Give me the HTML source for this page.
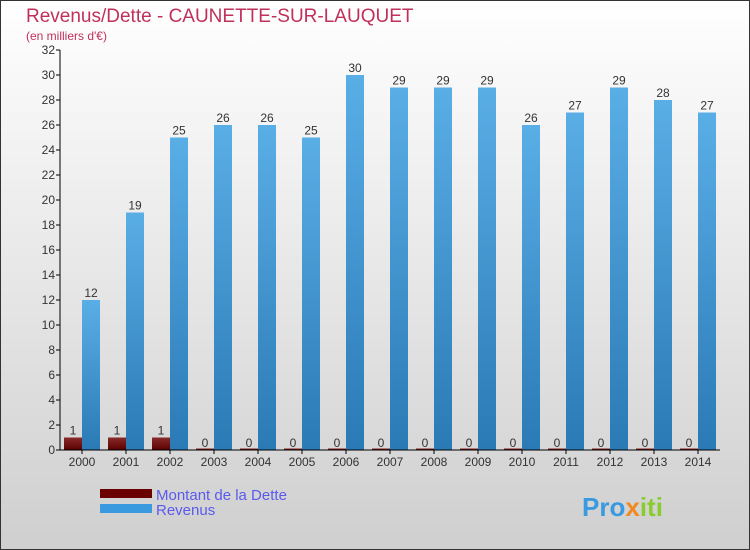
<!DOCTYPE html>
<html><head><meta charset="utf-8"><style>
body{margin:0}
svg{display:block;font-family:"Liberation Sans",sans-serif}
</style></head><body>
<svg width="750" height="550" xmlns="http://www.w3.org/2000/svg">
<defs>
<linearGradient id="bg" x1="0" y1="0" x2="0" y2="1"><stop offset="0" stop-color="#ffffff"/><stop offset="1" stop-color="#cfcfcf"/></linearGradient>
<linearGradient id="rev" x1="0" y1="0" x2="0" y2="1"><stop offset="0" stop-color="#5aaee6"/><stop offset="1" stop-color="#2a7ab5"/></linearGradient>
<linearGradient id="debt" x1="0" y1="0" x2="0" y2="1"><stop offset="0" stop-color="#8a2a2a"/><stop offset="1" stop-color="#5a0000"/></linearGradient>
</defs>
<rect x="0.5" y="0.5" width="749" height="549" fill="url(#bg)" stroke="#333"/>
<text x="26" y="22" font-size="19" fill="#c0305a">Revenus/Dette - CAUNETTE-SUR-LAUQUET</text>
<text x="26" y="40" font-size="12" fill="#c0305a">(en milliers d'€)</text>
<g id="plot"></g>
<rect x="100" y="489" width="52" height="9" fill="#6a0000"/>
<text x="156" y="500" font-size="15" fill="#5a5aee">Montant de la Dette</text>
<rect x="100" y="504" width="52" height="9" fill="#3a9ae0"/>
<text x="156" y="515" font-size="15" fill="#5a5aee">Revenus</text>
<text x="582" y="516" font-size="26" font-weight="bold" fill="#3a9ae0">Pro<tspan fill="#f08a20">x</tspan><tspan fill="#8acc30">iti</tspan></text>
</svg>
<script>
const years=["2000","2001","2002","2003","2004","2005","2006","2007","2008","2009","2010","2011","2012","2013","2014"];
const debt=[1,1,1,0,0,0,0,0,0,0,0,0,0,0,0];
const revenus=[12,19,25,26,26,25,30,29,29,29,26,27,29,28,27];
const yTicks=[0,2,4,6,8,10,12,14,16,18,20,22,24,26,28,30,32];
const NS="http://www.w3.org/2000/svg";
const g=document.getElementById('plot');
const x0=60,step=44,y0=450,yMax=32,ph=400;
const y=v=>y0-v/yMax*ph;
function mk(t,a){const e=document.createElementNS(NS,t);for(const k in a)e.setAttribute(k,a[k]);g.appendChild(e);return e;}
yTicks.forEach(v=>{
 const l=mk('line',{x1:x0-4,x2:x0,y1:y(v),y2:y(v),stroke:'#000'});
 
 
 const t=mk('text',{x:x0-5,y:y(v)+4,'font-size':12,'text-anchor':'end',fill:'#333'});
 t.textContent=v;
 
 
});
years.forEach((yr,i)=>{
 const c=x0+step*i+22;
 const dh=Math.max(y0-y(debt[i]),1.5);
 const d=mk('rect',{x:c-18,y:y0-dh,width:18,height:dh,fill:'url(#debt)'});
 
 
 const r=mk('rect',{x:c,y:y(revenus[i]),width:18,height:y0-y(revenus[i]),fill:'url(#rev)'});
 
 
 const dl=mk('text',{x:c-9,y:y(debt[i])-3,'font-size':12,'text-anchor':'middle',fill:'#333'});
 dl.textContent=debt[i];
 
 
 const rl=mk('text',{x:c+9,y:y(revenus[i])-3,'font-size':12,'text-anchor':'middle',fill:'#333'});
 rl.textContent=revenus[i];
 
 
 const tk=mk('line',{x1:c,x2:c,y1:y0,y2:y0+4,stroke:'#000'});
 
 
 const xl=mk('text',{x:c,y:y0+16,'font-size':12,'text-anchor':'middle',fill:'#333'});
 xl.textContent=yr;
 
 
});
const ya=mk('line',{x1:x0,x2:x0,y1:y(yMax),y2:y0,stroke:'#000'});


const xa=mk('line',{x1:x0,x2:x0+step*years.length,y1:y0,y2:y0,stroke:'#000'});


</script>
</body></html>
